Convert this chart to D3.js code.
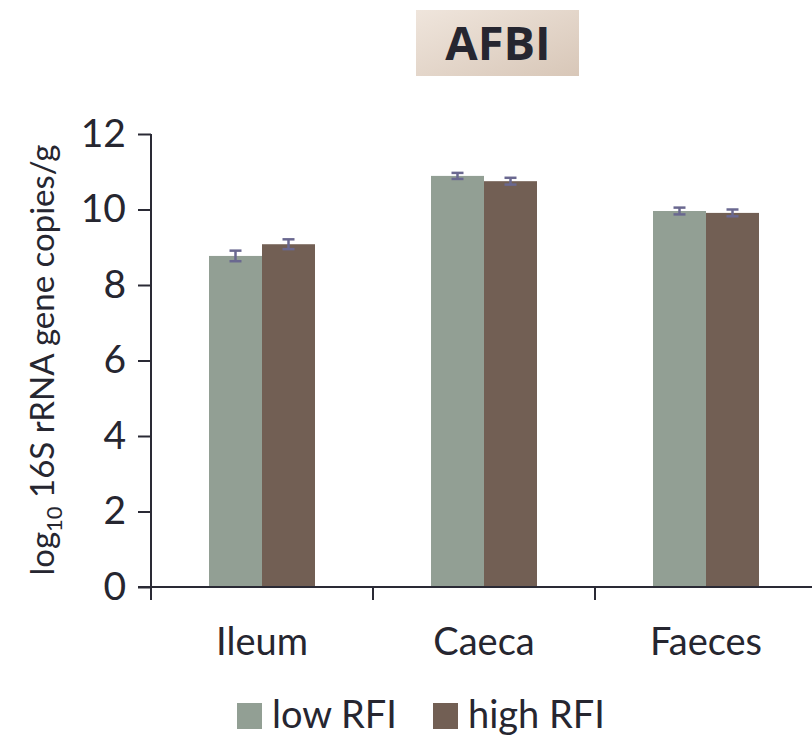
<!DOCTYPE html>
<html>
<head>
<script src="https://cdnjs.cloudflare.com/ajax/libs/d3/7.8.5/d3.min.js"></script>
<style>
  body { margin: 0; background: #fff; }
  text { font-family: Lato, "Open Sans", sans-serif; fill: #262630; }
</style>
</head>
<body>
<div id="chart"></div>
<script>
// data
var categories = ["Ileum", "Caeca", "Faeces"];
var groups = ["low RFI", "high RFI"];
var lowRFI = [8.77, 10.89, 9.96];
var highRFI = [9.08, 10.75, 9.91];
var lowErr = [0.14, 0.08, 0.09];
var highErr = [0.13, 0.09, 0.09];
var yTicks = [0, 2, 4, 6, 8, 10, 12];

var colors = ["#929f94", "#725f54"];

var W = 812, H = 739;

var svg = d3.select("#chart").append("svg")
  .attr("width", W).attr("height", H);

// title box with a soft gradient
var defs = svg.append("defs");
var grad = defs.append("linearGradient").attr("id", "tg")
  .attr("x1", "0%").attr("y1", "0%").attr("x2", "100%").attr("y2", "100%");
grad.append("stop").attr("offset", "0%").attr("stop-color", "#efe5dc");
grad.append("stop").attr("offset", "100%").attr("stop-color", "#d8c7b8");

svg.append("rect").attr("x", 416).attr("y", 10).attr("width", 163).attr("height", 66)
  .attr("fill", "url(#tg)");
svg.append("text").attr("x", 498).attr("y", 60).attr("text-anchor", "middle")
  .style("font-family", "'Open Sans', sans-serif")
  .style("font-weight", "bold").style("font-size", "47px").text("AFBI");

var x = d3.scaleBand().domain(categories).range([151, 817]);
var y = d3.scaleLinear().domain([0, 12]).range([587, 134]);
var xs = d3.scaleBand().domain(groups).range([0, 106]);

var rows = categories.map(function(c, i) {
  return [
    {cat: c, g: groups[0], v: lowRFI[i], e: lowErr[i], col: colors[0]},
    {cat: c, g: groups[1], v: highRFI[i], e: highErr[i], col: colors[1]}
  ];
});
var flat = [].concat.apply([], rows);

function bx(d) { return x(d.cat) + (x.bandwidth() - 106) / 2 + xs(d.g); }

svg.selectAll("rect.bar").data(flat).enter().append("rect")
  .attr("class", "bar")
  .attr("x", bx)
  .attr("y", function(d) { return y(d.v); })
  .attr("width", xs.bandwidth())
  .attr("height", function(d) { return y(0) - y(d.v); })
  .attr("fill", function(d) { return d.col; });

// y axis
var yAxis = svg.append("g").attr("transform", "translate(151,0)")
  .call(d3.axisLeft(y).tickValues(yTicks).tickSize(13).tickPadding(12));
yAxis.selectAll("text").style("font-size", "39px").attr("fill", "#262630");

// x axis: ticks at the band boundaries
var xAxis = svg.append("g").attr("transform", "translate(0,587)");
xAxis.append("line").attr("x1", 138).attr("x2", 812).attr("y1", 0).attr("y2", 0);
xAxis.selectAll("line.tk").data(categories).enter().append("line").attr("class", "tk")
  .attr("x1", function(d) { return x(d); }).attr("x2", function(d) { return x(d); })
  .attr("y1", 0).attr("y2", 13);
xAxis.selectAll("text").data(categories).enter().append("text")
  .attr("x", function(d) { return x(d) + x.bandwidth() / 2; })
  .attr("y", 68).attr("text-anchor", "middle").style("font-size", "38px")
  .text(function(d) { return d; });

svg.selectAll(".domain, .tick line, g line").attr("stroke", "#2a2a35").attr("stroke-width", 2);
yAxis.select(".domain").attr("d", "M0,587V134");

// error bars
var eb = svg.selectAll("g.err").data(flat).enter().append("g").attr("class", "err")
  .attr("stroke", "#6a6890").attr("stroke-width", 2.5);
eb.append("line")
  .attr("x1", function(d) { return bx(d) + xs.bandwidth() / 2; })
  .attr("x2", function(d) { return bx(d) + xs.bandwidth() / 2; })
  .attr("y1", function(d) { return y(d.v + d.e); })
  .attr("y2", function(d) { return y(d.v - d.e); });
eb.append("line")
  .attr("x1", function(d) { return bx(d) + xs.bandwidth() / 2 - 6; })
  .attr("x2", function(d) { return bx(d) + xs.bandwidth() / 2 + 6; })
  .attr("y1", function(d) { return y(d.v + d.e); })
  .attr("y2", function(d) { return y(d.v + d.e); });
eb.append("line")
  .attr("x1", function(d) { return bx(d) + xs.bandwidth() / 2 - 6; })
  .attr("x2", function(d) { return bx(d) + xs.bandwidth() / 2 + 6; })
  .attr("y1", function(d) { return y(d.v - d.e); })
  .attr("y2", function(d) { return y(d.v - d.e); });

// y label
var yl = svg.append("text").attr("transform", "translate(54,360) rotate(-90)")
  .attr("text-anchor", "middle").style("font-size", "33px");
yl.append("tspan").text("log");
yl.append("tspan").attr("dy", 8).style("font-size", "22px").text("10");
yl.append("tspan").attr("dy", -8).text(" 16S rRNA gene copies/g");

// legend
var lg = svg.selectAll("g.lg").data(groups).enter().append("g").attr("class", "lg")
  .attr("transform", function(d, i) { return "translate(" + (i === 0 ? 237 : 433) + ",703)"; });
lg.append("rect").attr("width", 25).attr("height", 26)
  .attr("fill", function(d, i) { return colors[i]; });
lg.append("text").attr("x", 35).attr("y", 25).style("font-size", "38px")
  .text(function(d) { return d; });
</script>
</body>
</html>
